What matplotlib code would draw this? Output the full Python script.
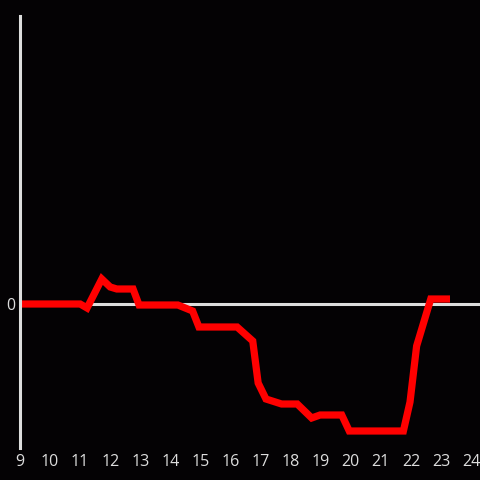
import matplotlib
matplotlib.use("Agg")
import matplotlib.pyplot as plt

hours = [9.0, 11.0, 11.23, 11.72, 12.0, 12.22, 12.76, 12.96, 14.25, 14.74, 14.95,
         16.22, 16.74, 16.92, 17.18, 17.70, 18.22, 18.70, 18.98, 19.70, 19.95,
         21.75, 21.97, 22.19, 22.66, 23.30]
values = [0, 0, -4, 25, 17, 15, 15, -1, -1, -7, -23,
          -23, -37, -79, -95, -100, -100, -114, -111, -111, -127,
          -127, -98, -42, 5, 5]
xticks = list(range(9, 25))

bg = "#040204"
fg = "#dddddd"

plt.rcParams["font.family"] = ["Open Sans", "DejaVu Sans"]

fig = plt.figure(figsize=(4.8, 4.8), dpi=100, facecolor=bg)
ax = fig.add_axes([20/480, 32/480, 460/480, 432/480], facecolor=bg)
ax.set_xlim(9, 9 + 460/30.07)
ax.set_ylim(-144, 288)

ax.axhline(0, color=fg, lw=2.2, zorder=1)
ax.plot(hours, values, color="#ff0000", lw=5.2, solid_joinstyle="miter",
        solid_capstyle="butt", zorder=3)

for s in ["top", "right", "bottom"]:
    ax.spines[s].set_visible(False)
ax.spines["left"].set_color(fg)
ax.spines["left"].set_linewidth(2.2)
ax.spines["left"].set_zorder(4)

ax.set_xticks(xticks)
ax.set_xticklabels([str(t) for t in xticks])
ax.set_yticks([0])
ax.set_yticklabels(["0"])
ax.tick_params(axis="both", length=0, colors=fg, labelsize=11.5)
ax.tick_params(axis="x", pad=4.5)
ax.tick_params(axis="y", pad=3)

fig.savefig("out.png", dpi=100, facecolor=bg)
